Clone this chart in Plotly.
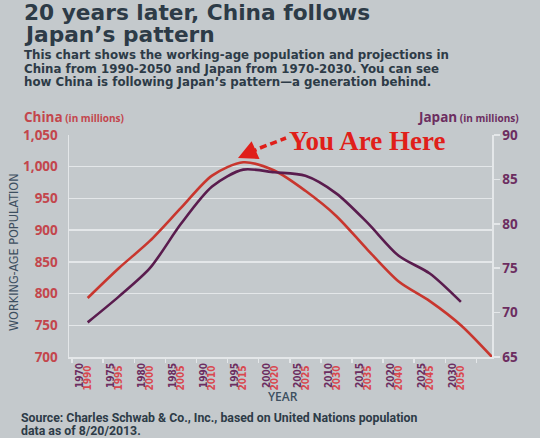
import plotly.graph_objects as go

# ---------------- data ----------------
japan_years = [1970, 1975, 1980, 1985, 1990, 1995, 2000, 2005, 2010, 2015, 2020, 2025, 2030]
japan_pop = [68.9, 71.8, 75.0, 80.0, 84.2, 86.1, 85.8, 85.4, 83.4, 80.1, 76.4, 74.4, 71.2]

china_years = [1990, 1995, 2000, 2005, 2010, 2015, 2020, 2025, 2030, 2035, 2040, 2045, 2050, 2055]
china_pop = [793, 840, 883, 935, 986, 1007, 994, 962, 922, 869, 819, 788, 750, 700]

china_ticks = [700, 750, 800, 850, 900, 950, 1000, 1050]
japan_ticks = [65, 70, 75, 80, 85, 90]
japan_tick_years = japan_years
china_tick_years = [1990, 1995, 2000, 2005, 2010, 2015, 2020, 2025, 2030, 2035, 2040, 2045, 2050]

title_lines = ["20 years later, China follows", "Japan\u2019s pattern"]
subtitle_lines = [
    "This chart shows the working-age population and projections in",
    "China from 1990-2050 and Japan from 1970-2030. You can see",
    "how China is following Japan\u2019s pattern\u2014a generation behind.",
]
source_lines = [
    "Source: Charles Schwab & Co., Inc., based on United Nations population",
    "data as of 8/20/2013.",
]

# ---------------- styling ----------------
W, H = 540, 438
L, R, T, B = 69, 48, 135, 81
PW, PH = W - L - R, H - T - B

BG = "#c4c9cc"
GRID = "#e4e7e9"
RED = "#c8362e"
PURPLE = "#5a1c4e"
RED_TXT = "#c3464c"
PURP_TXT = "#6c2d60"
DARK = "#2d3b47"
ARROW_RED = "#e01f1a"

SANS = "Open Sans, Liberation Sans, sans-serif"
WIDE = "DejaVu Sans, Open Sans, sans-serif"
NARROW = "Liberation Sans Narrow, Arial Narrow, DejaVu Sans Condensed, Roboto Condensed, sans-serif"


def px(x):
    return (x - L) / PW


def py(y):
    return (H - B - y) / PH


fig = go.Figure()

# China on x / y (left axis)
fig.add_trace(go.Scatter(
    x=china_years, y=china_pop, xaxis="x", yaxis="y", mode="lines",
    line=dict(color=RED, width=2.6, shape="spline", smoothing=0.8),
    showlegend=False, hoverinfo="skip"))

# Japan on x2 / y2 (right axis)
fig.add_trace(go.Scatter(
    x=japan_years, y=japan_pop, xaxis="x2", yaxis="y2", mode="lines",
    line=dict(color=PURPLE, width=2.6, shape="spline", smoothing=0.8),
    showlegend=False, hoverinfo="skip"))

fig.update_layout(
    width=W, height=H,
    margin=dict(l=L, r=R, t=T, b=B, pad=0, autoexpand=False),
    paper_bgcolor=BG, plot_bgcolor=BG,
    showlegend=False,
    xaxis=dict(
        range=[1987, 2055], tickmode="array", tickvals=china_tick_years,
        ticktext=[str(v) for v in china_tick_years], automargin=False,
        tickangle=-90, ticks="", ticklabelshift=0, ticklabelstandoff=3,
        tickfont=dict(family=NARROW, size=10, color="#d9474f", weight="bold"),
        showgrid=False, zeroline=False,
        showline=True, linecolor=GRID, linewidth=1.5,
        minor=dict(tick0=1987.5, dtick=5, ticks="outside", ticklen=4,
                   tickcolor=GRID, tickwidth=1.5, showgrid=False),
    ),
    xaxis2=dict(
        range=[1967, 2035], overlaying="x", side="bottom", anchor="y2",
        tickmode="array", tickvals=japan_tick_years, automargin=False,
        ticktext=[str(v) for v in japan_tick_years],
        tickangle=-90, ticks="", ticklabelshift=-8, ticklabelstandoff=3,
        tickfont=dict(family=NARROW, size=10, color=PURP_TXT, weight="bold"),
        showgrid=False, zeroline=False, showline=False,
    ),
    yaxis=dict(
        range=[700, 1050], tickmode="array", tickvals=china_ticks, automargin=False,
        tickformat=",", ticks="", ticklabelstandoff=7,
        tickfont=dict(family=SANS, size=13.5, color=RED_TXT, weight="bold"),
        showgrid=True, gridcolor=GRID, gridwidth=1.5, zeroline=False,
        showline=True, linecolor=GRID, linewidth=1.5,
    ),
    yaxis2=dict(
        range=[65, 90], overlaying="y", side="right", anchor="x2", automargin=False,
        tickmode="array", tickvals=japan_ticks,
        ticks="outside", ticklen=6, tickcolor=GRID, tickwidth=1.5,
        tickfont=dict(family=SANS, size=13.5, color=PURP_TXT, weight="bold"),
        showgrid=False, zeroline=False,
        showline=True, linecolor=GRID, linewidth=1.5,
    ),
)

ann = []
# title
for text, yc in zip(title_lines, [12, 34.5]):
    ann.append(dict(text=text, x=px(23), y=py(yc), xref="paper", yref="paper",
                    xanchor="left", yanchor="middle", showarrow=False, borderpad=0,
                    font=dict(family=WIDE, size=21.7, color=DARK, weight="bold")))
# subtitle
for text, yc in zip(subtitle_lines, [55, 68.5, 82]):
    ann.append(dict(text=text, x=px(23), y=py(yc), xref="paper", yref="paper",
                    xanchor="left", yanchor="middle", showarrow=False, borderpad=0,
                    font=dict(family=WIDE, size=11.8, color=DARK, weight="bold")))
# axis unit labels
ann.append(dict(text="China<span style='font-size:10px'> (in millions)</span>",
                x=px(23), y=py(116.5), xref="paper", yref="paper",
                xanchor="left", yanchor="middle", showarrow=False, borderpad=0,
                font=dict(family=SANS, size=13.5, color=RED_TXT, weight="bold")))
ann.append(dict(text="Japan<span style='font-size:10px'> (in millions)</span>",
                x=px(520), y=py(116.5), xref="paper", yref="paper",
                xanchor="right", yanchor="middle", showarrow=False, borderpad=0,
                font=dict(family=SANS, size=13.5, color=PURP_TXT, weight="bold")))
# y title
ann.append(dict(text="WORKING-AGE POPULATION", x=px(13), y=py(252),
                xref="paper", yref="paper", xanchor="center", yanchor="middle",
                textangle=-90, showarrow=False, borderpad=0,
                font=dict(family=NARROW, size=12.5, color="#3d4f60")))
# x title
ann.append(dict(text="YEAR", x=px(283), y=py(396), xref="paper", yref="paper",
                xanchor="center", yanchor="middle", showarrow=False, borderpad=0,
                font=dict(family=SANS, size=12, color="#3d4f60", weight=600)))
# source
for text, yc in zip(source_lines, [418, 431]):
    ann.append(dict(text=text, x=px(20), y=py(yc), xref="paper", yref="paper",
                    xanchor="left", yanchor="middle", showarrow=False, borderpad=0,
                    font=dict(family="Roboto, sans-serif", size=12.3, color=DARK, weight="bold")))
# You Are Here
ann.append(dict(text="You Are Here", x=px(288), y=py(141), xref="paper", yref="paper",
                xanchor="left", yanchor="middle", showarrow=False, borderpad=0,
                font=dict(family="Liberation Serif, Times New Roman, serif", size=27,
                          color=ARROW_RED, weight="bold")))
ann.append(dict(text="", x=px(238), y=py(158), xref="paper", yref="paper",
                ax=20, ay=-9, showarrow=True, arrowhead=2, arrowsize=1.1,
                arrowwidth=3.5, arrowcolor=ARROW_RED))
fig.update_layout(annotations=ann)

fig.add_shape(type="line", xref="paper", yref="paper",
              x0=px(260), y0=py(148), x1=px(286), y1=py(138),
              line=dict(color=ARROW_RED, width=3.5, dash="7px,4px"))

fig.write_html(
    "out.html",
    config={"displayModeBar": False, "staticPlot": True},
    post_script="document.body.style.margin='0';document.body.style.padding='0';"
                "document.documentElement.style.overflow='hidden';",
)
